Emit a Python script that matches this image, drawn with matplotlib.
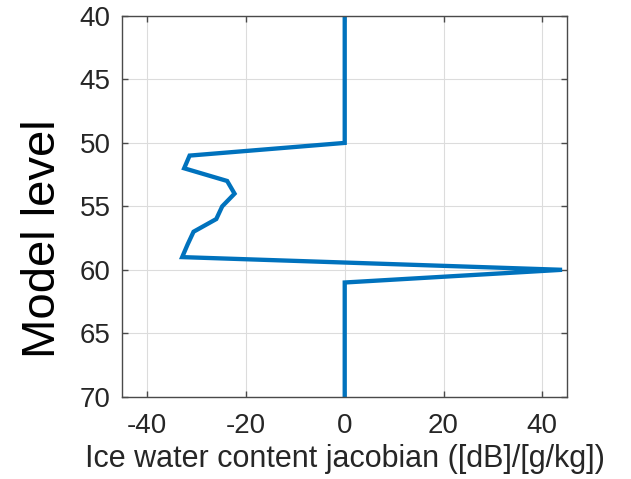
import matplotlib
matplotlib.use("Agg")
import matplotlib.pyplot as plt

levels = [40, 41, 42, 43, 44, 45, 46, 47, 48, 49, 50, 51, 52, 53, 54, 55, 56, 57, 58, 59, 60,
          61, 62, 63, 64, 65, 66, 67, 68, 69, 70]
jacobian = [0, 0, 0, 0, 0, 0, 0, 0, 0, 0, 0, -31.4, -32.5, -23.8, -22.3, -24.8, -26.0, -30.6,
            -31.8, -32.9, 44.0, 0, 0, 0, 0, 0, 0, 0, 0, 0, 0]
xticks = [-40, -20, 0, 20, 40]
yticks = [40, 45, 50, 55, 60, 65, 70]

plt.rcParams['font.family'] = ['Liberation Sans', 'DejaVu Sans']
plt.rcParams['axes.unicode_minus'] = False
fig = plt.figure(figsize=(6.31, 4.79), dpi=100)
ax = fig.add_axes([0.194, 0.1718, 0.7046, 0.7948])
ax.plot(jacobian, levels, color='#0072BD', linewidth=3.1, solid_joinstyle='miter')
ax.set_xlim(-45, 45)
ax.set_ylim(70, 40)
ax.set_xticks(xticks)
ax.set_yticks(yticks)
ax.grid(True, color='#dcdcdc', linewidth=0.8)
ax.set_axisbelow(True)
for s in ax.spines.values():
    s.set_color('#4a4a4a')
    s.set_linewidth(1.0)
ax.tick_params(direction='in', length=4, width=1, colors='#4a4a4a', labelcolor='#262626',
               labelsize=20, top=True, right=True)
ax.tick_params(axis='x', pad=11.5)
ax.tick_params(axis='y', pad=8.5)
ax.set_xlabel('Ice water content jacobian ([dB]/[g/kg])', fontsize=22, color='#262626')
ax.xaxis.set_label_coords(0.5, -0.123)
ax.set_ylabel('Model level', fontsize=34, color='#000000')
ax.yaxis.set_label_coords(-0.129, 0.416)
fig.savefig('out.png', dpi=100)
